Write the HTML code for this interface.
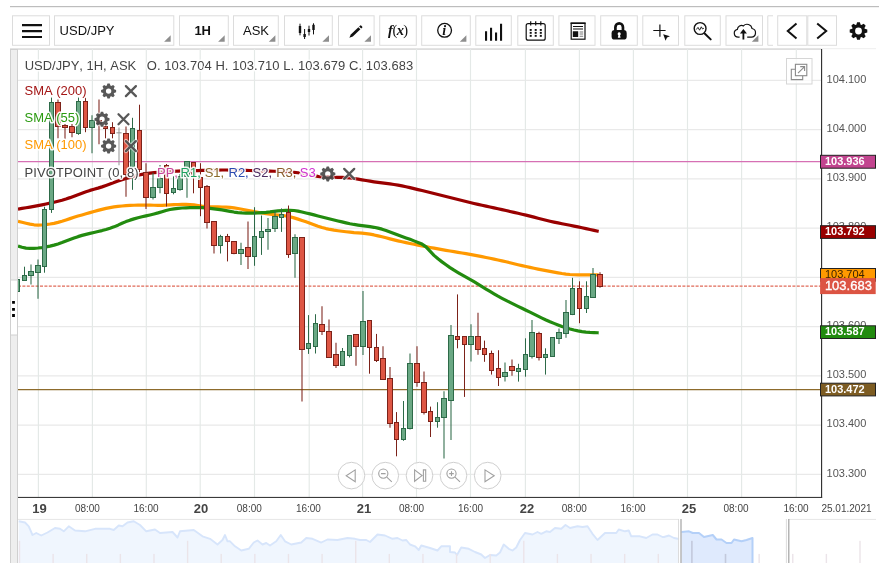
<!DOCTYPE html>
<html lang="en">
<head>
<meta charset="utf-8">
<title>USD/JPY 1H chart</title>
<style>
html,body{margin:0;padding:0;background:#fff;}
body{width:879px;height:569px;overflow:hidden;position:relative;font-family:"Liberation Sans",Arial,sans-serif;}
svg.chart{position:absolute;left:0;top:0;display:block;}
svg text{white-space:pre;font-kerning:none;}
</style>
</head>
<body>
<svg class="chart" width="879" height="569" viewBox="0 0 879 569" font-family="Liberation Sans, Arial, sans-serif">
<defs>
<path id="gear" fill-rule="evenodd" d="M-1.84 -5.5 L-1.13 -7.52 L1.13 -7.52 L1.84 -5.5 L2.59 -5.19 L4.52 -6.11 L6.11 -4.52 L5.19 -2.59 L5.5 -1.84 L7.52 -1.13 L7.52 1.13 L5.5 1.84 L5.19 2.59 L6.11 4.52 L4.52 6.11 L2.59 5.19 L1.84 5.5 L1.13 7.52 L-1.13 7.52 L-1.84 5.5 L-2.59 5.19 L-4.52 6.11 L-6.11 4.52 L-5.19 2.59 L-5.5 1.84 L-7.52 1.13 L-7.52 -1.13 L-5.5 -1.84 L-5.19 -2.59 L-6.11 -4.52 L-4.52 -6.11 L-2.59 -5.19Z M-2.7 0 a2.7 2.7 0 1 0 5.4 0 a2.7 2.7 0 1 0 -5.4 0Z"/>
<path id="xx" d="M-5 -5 L5 5 M5 -5 L-5 5" fill="none" stroke-linecap="round"/>
<clipPath id="plot"><rect x="18" y="49" width="803" height="448"/></clipPath>
</defs>
<rect x="10" y="6" width="869" height="1.2" fill="#bdbdbd"/>
<g fill="#fff" stroke="#dcdcdc" stroke-width="1">
<rect x="12.5" y="15.8" width="37" height="29.5"/>
<rect x="54.5" y="15.8" width="119.3" height="29.5"/>
<rect x="179.5" y="15.8" width="48.8" height="29.5"/>
<rect x="233.5" y="15.8" width="44.8" height="29.5"/>
<rect x="284.5" y="15.8" width="47.8" height="29.5"/>
<rect x="338.5" y="15.8" width="35.6" height="29.5"/>
<rect x="379.7" y="15.8" width="36.6" height="29.5"/>
<rect x="421.7" y="15.8" width="48.6" height="29.5"/>
<rect x="475.8" y="15.8" width="35.5" height="29.5"/>
<rect x="517.8" y="15.8" width="35.5" height="29.5"/>
<rect x="558.9" y="15.8" width="36.1" height="29.5"/>
<rect x="600.7" y="15.8" width="36.6" height="29.5"/>
<rect x="642.8" y="15.8" width="35.7" height="29.5"/>
<rect x="684.8" y="15.8" width="35.5" height="29.5"/>
<rect x="726" y="15.8" width="36.5" height="29.5"/>
<rect x="777.7" y="15.8" width="29.1" height="29.5"/>
<rect x="807.8" y="15.8" width="28.7" height="29.5"/>
<path d="M773 15.8h-5.2v29.5h5.2" fill="none"/>
</g>
<g fill="#8e8e8e">
<path d="M170.7 35.2v6.6h-6.6z"/>
<path d="M224.7 35.2v6.6h-6.6z"/>
<path d="M275.4 35.2v6.6h-6.6z"/>
<path d="M329 35.2v6.6h-6.6z"/>
<path d="M371 35.2v6.6h-6.6z"/>
<path d="M466.4 35.2v6.6h-6.6z"/>
<path d="M758.4 35.2v6.6h-6.6z"/>
</g>
<path d="M22 24h20v2.2h-20zM22 30h20v2.2h-20zM22 35.9h20v2.2h-20z" fill="#111"/>
<g font-size="13" fill="#111">
<text x="59.6" y="34.6">USD/JPY</text>
<text x="194.4" y="34.8" font-weight="bold">1H</text>
<text x="243" y="34.8">ASK</text>
</g>
<g stroke="#111" stroke-width="1" fill="#111">
<line x1="300" x2="300" y1="23.7" y2="35.3"/><rect x="298.8" y="26" width="2.4" height="7" stroke="none"/>
<line x1="304.6" x2="304.6" y1="29" y2="39"/><rect x="303.4" y="34" width="2.4" height="3" stroke="none"/>
<line x1="309" x2="309" y1="25.7" y2="35.5"/><rect x="307.8" y="29" width="2.4" height="3" stroke="none"/>
<line x1="313.5" x2="313.5" y1="23.3" y2="34.4"/><rect x="312.3" y="24.8" width="2.4" height="5.2" stroke="none"/>
</g>
<g fill="#111"><path d="M349.4 37.8 L350.8 34.4 L358.4 27.2 L360.4 29.3 L352.8 36.5Z"/><path d="M359.1 26.5 L360 25.7 a1 1 0 0 1 1.4 0 l0.7 0.7 a1 1 0 0 1 0 1.4 L361.2 28.6Z"/></g>
<g font-family="Liberation Serif, Times New Roman, serif" font-size="14.5" fill="#111"><text x="388" y="35"><tspan font-style="italic" font-weight="bold">f</tspan><tspan dx="-0.4">(</tspan><tspan font-style="italic" font-weight="bold" dx="-0.6">x</tspan><tspan dx="-0.6">)</tspan></text></g>
<circle cx="444.6" cy="30.3" r="6.9" fill="none" stroke="#111" stroke-width="1.3"/>
<text x="442.2" y="35" font-family="Liberation Serif, Times New Roman, serif" font-size="14" font-style="italic" font-weight="bold" fill="#111">i</text>
<path d="M485 31.2h2.1v9.6h-2.1zM490 27.8h2.1v13h-2.1zM495 32.6h2.1v8.2h-2.1zM500 23.7h2.1v17.1h-2.1z" fill="#111"/>
<g fill="none" stroke="#111" stroke-width="1.2"><rect x="526.2" y="23.6" width="19" height="16.6" rx="2"/><path d="M530.7 21.2v4.2M535.7 21.2v4.2M540.8 21.2v4.2"/></g>
<g fill="#111">
<rect x="529.7" y="29" width="2" height="1.9"/>
<rect x="529.7" y="31.9" width="2" height="1.9"/>
<rect x="529.7" y="34.9" width="2" height="1.9"/>
<rect x="534.7" y="29" width="2" height="1.9"/>
<rect x="534.7" y="31.9" width="2" height="1.9"/>
<rect x="534.7" y="34.9" width="2" height="1.9"/>
<rect x="539.8" y="29" width="2" height="1.9"/>
<rect x="539.8" y="31.9" width="2" height="1.9"/>
<rect x="539.8" y="34.9" width="2" height="1.9"/>
</g>
<g><rect x="571.2" y="23.2" width="13.8" height="16" fill="none" stroke="#111" stroke-width="1.2"/><path d="M570.6 22.4h15v1.6h-15zM573 26h10v1h-10zM573 28.4h10v1h-10zM572.8 31.2h5.4v5.8h-5.4z" fill="#111"/><path d="M579.6 31.4h3.6v1h-3.6zM579.6 33.6h3.6v1h-3.6zM579.6 35.8h3.6v1h-3.6z" fill="#777"/></g>
<g><path d="M615.4 31.5v-4.3a3.78 3.78 0 0 1 7.56 0v4.3" fill="none" stroke="#111" stroke-width="2.7"/><rect x="611.6" y="30.1" width="15.1" height="9.5" rx="3.2" fill="#111"/><path d="M619.2 32.3a1.55 1.55 0 0 1 0.85 2.85l0.5 2.7h-2.7l0.5-2.7a1.55 1.55 0 0 1 0.85-2.85z" fill="#fff"/></g>
<g><path d="M653.3 30.5h12.3M659.9 24.4v12.3" stroke="#111" stroke-width="1.2" fill="none"/><path d="M663.2 34.2l6.8 2l-3 1.3l-1.4 3.2z" fill="#111"/></g>
<g fill="none" stroke="#111"><circle cx="700.1" cy="28.5" r="5.9" stroke-width="1.4"/><path d="M704.9 33.8l5.8 5.6" stroke-width="2" stroke-linecap="round"/><path d="M696.2 29.6l1.8-2.2l1.6 2.8l1.7-3.4l1.2 2.2l1.4-0.8" stroke-width="0.9"/></g>
<g><path d="M739.6 37.2h-1.4a4 4 0 0 1-0.8-7.9a4.2 4.2 0 0 1 6-3.4a5 5 0 0 1 8.6 2.6a4.4 4.4 0 0 1-0.6 8.7h-4.2" fill="none" stroke="#111" stroke-width="1.2"/><path d="M742.5 39.6v-6.2h-2.6l3.5-4.3l3.5 4.3h-2.6v6.2z" fill="#111"/></g>
<g fill="none" stroke="#111" stroke-width="2"><path d="M796.5 23.5L787.8 31L796.5 38.4"/><path d="M817.2 23.5L826.2 31L817.2 38.4"/></g>
<path fill="#111" fill-rule="evenodd" d="M856.34 24.76 L857.11 22.21 L859.89 22.21 L860.66 24.76 L861.38 25.06 L863.73 23.8 L865.7 25.77 L864.44 28.12 L864.74 28.84 L867.29 29.61 L867.29 32.39 L864.74 33.16 L864.44 33.88 L865.7 36.23 L863.73 38.2 L861.38 36.94 L860.66 37.24 L859.89 39.79 L857.11 39.79 L856.34 37.24 L855.62 36.94 L853.27 38.2 L851.3 36.23 L852.56 33.88 L852.26 33.16 L849.71 32.39 L849.71 29.61 L852.26 28.84 L852.56 28.12 L851.3 25.77 L853.27 23.8 L855.62 25.06Z M855.1 31 a3.4 3.4 0 1 0 6.8 0 a3.4 3.4 0 1 0 -6.8 0Z"/>
<rect x="10" y="48.2" width="811" height="1.8" fill="#dedede"/>
<rect x="821" y="48.2" width="55" height="1" fill="#eeeeee"/>
<rect x="10" y="49" width="8" height="514" fill="#d0d0d0"/>
<rect x="11" y="50" width="6" height="513" fill="#eeeeee"/>
<rect x="11" y="279.5" width="6" height="56" fill="#d0d0d0"/>
<rect x="11" y="280.5" width="6" height="54" fill="#ffffff"/>
<path d="M12.1 300.9h2.8v2.8h-2.8zM12.1 307.9h2.8v2.8h-2.8zM12.1 314.1h2.8v2.8h-2.8z" fill="#000"/>
<g stroke="#e9e9e9" stroke-width="1.15" clip-path="url(#plot)">
<line x1="18" x2="821" y1="80.4" y2="80.4"/>
<line x1="18" x2="821" y1="129.64" y2="129.64"/>
<line x1="18" x2="821" y1="178.88" y2="178.88"/>
<line x1="18" x2="821" y1="228.12" y2="228.12"/>
<line x1="18" x2="821" y1="277.36" y2="277.36"/>
<line x1="18" x2="821" y1="326.6" y2="326.6"/>
<line x1="18" x2="821" y1="375.84" y2="375.84"/>
<line x1="18" x2="821" y1="425.08" y2="425.08"/>
<line x1="18" x2="821" y1="474.32" y2="474.32"/>
</g>
<g stroke="#e4e9e7" stroke-width="1.15" clip-path="url(#plot)">
<line x1="38.4" x2="38.4" y1="49" y2="497"/>
<line x1="92.4" x2="92.4" y1="49" y2="497"/>
<line x1="146.3" x2="146.3" y1="49" y2="497"/>
<line x1="200.2" x2="200.2" y1="49" y2="497"/>
<line x1="254.5" x2="254.5" y1="49" y2="497"/>
<line x1="309.2" x2="309.2" y1="49" y2="497"/>
<line x1="362.6" x2="362.6" y1="49" y2="497"/>
<line x1="416.5" x2="416.5" y1="49" y2="497"/>
<line x1="470.5" x2="470.5" y1="49" y2="497"/>
<line x1="525.4" x2="525.4" y1="49" y2="497"/>
<line x1="579.4" x2="579.4" y1="49" y2="497"/>
<line x1="633.4" x2="633.4" y1="49" y2="497"/>
<line x1="687.5" x2="687.5" y1="49" y2="497"/>
<line x1="741.6" x2="741.6" y1="49" y2="497"/>
<line x1="796.3" x2="796.3" y1="49" y2="497"/>
</g>
<line x1="18" x2="821" y1="161.6" y2="161.6" stroke="#d670b4" stroke-width="1.25"/>
<line x1="18" x2="821" y1="389.6" y2="389.6" stroke="#8d6b2c" stroke-width="1.3"/>
<line x1="18" x2="821" y1="286.15" y2="286.15" stroke="#e06a58" stroke-width="1.3" stroke-dasharray="3 1.4"/>
<g fill="none" stroke-width="3.2" stroke-linejoin="round" stroke-linecap="butt" clip-path="url(#plot)">
<polyline stroke="#ff9900" points="18,221.4 22,222.25 26,223.2 30,224.1 34,224.79 38,225.1 42,224.99 46,224.6 50,224.02 54,223.33 58,222.4 62,221.26 66,219.98 70,218.64 74,217.31 78,216.07 82,214.95 86,213.81 90,212.66 94,211.52 98,210.41 102,209.37 106,208.42 110,207.59 114,206.9 118,206.38 122,205.98 126,205.68 130,205.45 134,205.26 138,205.14 142,205.11 146,205.14 150,205.2 154,205.26 158,205.3 162,205.28 166,205.14 170,204.94 174,204.71 178,204.5 182,204.37 186,204.35 190,204.5 194,204.87 198,205.48 202,206.07 206,206.45 210,206.69 214,206.82 218,206.91 222,207 226,207.15 230,207.42 234,207.86 238,208.49 242,209.26 246,210.08 250,210.9 254,211.63 258,212.32 262,212.98 266,213.61 270,214.2 274,214.66 278,215.02 282,215.4 286,215.96 290,216.8 294,217.89 298,219.14 302,220.47 306,221.8 310,223.22 314,224.73 318,226.2 322,227.51 326,228.57 330,229.44 334,230.15 338,230.74 342,231.26 346,231.73 350,232.2 354,232.6 358,232.9 362,233.2 366,233.61 370,234.19 374,234.94 378,235.82 382,236.79 386,237.82 390,238.86 394,239.88 398,240.85 402,241.73 406,242.6 410,243.45 414,244.29 418,245.11 422,245.91 426,246.69 430,247.45 434,248.19 438,248.91 442,249.62 446,250.33 450,251.03 454,251.7 458,252.36 462,253.03 466,253.7 470,254.41 474,255.14 478,255.9 482,256.68 486,257.48 490,258.29 494,259.13 498,259.98 502,260.87 506,261.8 510,262.77 514,263.74 518,264.7 522,265.64 526,266.53 530,267.39 534,268.24 538,269.06 542,269.86 546,270.63 550,271.38 554,272.1 558,272.84 562,273.53 566,274.11 570,274.52 574,274.75 578,274.84 582,274.85 586,274.82 590,274.8 594,274.81 598,274.8 598.7,274.8"/>
<polyline stroke="#228b0f" points="18,246 22,247.28 26,248.15 30,248.41 34,248.3 38,248 42,247.55 46,246.89 50,246.09 54,245.12 58,243.91 62,242.53 66,241.05 70,239.53 74,238.04 78,236.64 82,235.4 86,234.33 90,233.36 94,232.44 98,231.53 102,230.57 106,229.51 110,228.29 114,226.86 118,225.17 122,223.32 126,221.6 130,220.14 134,218.89 138,217.79 142,216.8 146,215.87 150,214.94 154,213.96 158,212.89 162,211.67 166,210.46 170,209.53 174,208.83 178,208.34 182,208.01 186,207.8 190,207.69 194,207.61 198,207.58 202,207.67 206,207.95 210,208.36 214,208.85 218,209.35 222,209.94 226,210.64 230,211.37 234,212.04 238,212.58 242,212.91 246,213.08 250,213.12 254,213.06 258,212.9 262,212.66 266,212.36 270,211.94 274,211.37 278,210.84 282,210.53 286,210.33 290,210.28 294,210.5 298,211.1 302,212 306,212.94 310,213.89 314,214.9 318,215.93 322,216.95 326,217.94 330,218.95 334,219.95 338,220.94 342,221.91 346,222.83 350,223.7 354,224.45 358,225.06 362,225.58 366,226.09 370,226.64 374,227.3 378,228.11 382,229.15 386,230.45 390,231.92 394,233.48 398,235.05 402,236.52 406,237.92 410,239.33 414,240.88 418,242.45 422,244.1 426,246.86 430,251.16 434,255.35 438,258.79 442,261.88 446,264.81 450,267.61 454,270.16 458,272.54 462,274.81 466,277.04 470,279.31 474,281.68 478,284.13 482,286.59 486,289.06 490,291.49 494,293.86 498,296.15 502,298.32 506,300.41 510,302.42 514,304.38 518,306.32 522,308.25 526,310.19 530,312.18 534,314.18 538,316.17 542,318.12 546,319.99 550,321.75 554,323.39 558,324.98 562,326.47 566,327.81 570,328.98 574,330 578,330.88 582,331.59 586,332.11 590,332.4 594,332.57 598,332.76 598.7,332.8"/>
<polyline stroke="#990000" points="18,209.1 22,208.41 26,207.74 30,207.07 34,206.36 38,205.6 42,204.81 46,203.99 50,203.15 54,202.25 58,201.27 62,200.2 66,198.99 70,197.63 74,196.16 78,194.64 82,193.14 86,191.71 90,190.4 94,189.23 98,188.1 102,186.87 106,185.5 110,184.04 114,182.55 118,181.1 122,179.73 126,178.51 130,177.35 134,176.26 138,175.25 142,174.36 146,173.64 150,173.09 154,172.68 158,172.35 162,172.04 166,171.73 170,171.48 174,171.27 178,171.11 182,170.97 186,170.85 190,170.75 194,170.65 198,170.55 202,170.44 206,170.33 210,170.22 214,170.13 218,170.06 222,170.01 226,170 230,170.03 234,170.09 238,170.18 242,170.28 246,170.39 250,170.5 254,170.6 258,170.7 262,170.81 266,170.93 270,171.08 274,171.25 278,171.44 282,171.61 286,171.79 290,172.02 294,172.33 298,172.74 302,173.31 306,174.07 310,174.91 314,175.72 318,176.37 322,176.8 326,177.06 330,177.19 334,177.27 338,177.33 342,177.44 346,177.64 350,178 354,178.51 358,179.12 362,179.8 366,180.5 370,181.19 374,181.85 378,182.43 382,182.95 386,183.45 390,183.96 394,184.51 398,185.14 402,185.88 406,186.72 410,187.63 414,188.59 418,189.58 422,190.57 426,191.54 430,192.52 434,193.5 438,194.5 442,195.5 446,196.5 450,197.51 454,198.52 458,199.55 462,200.57 466,201.57 470,202.56 474,203.5 478,204.42 482,205.3 486,206.17 490,207.03 494,207.9 498,208.78 502,209.67 506,210.56 510,211.46 514,212.36 518,213.27 522,214.2 526,215.14 530,216.13 534,217.15 538,218.19 542,219.22 546,220.22 550,221.19 554,222.09 558,222.93 562,223.73 566,224.51 570,225.29 574,226.08 578,226.9 582,227.75 586,228.62 590,229.49 594,230.37 598,231.25 598.7,231.4"/>
</g>
<g clip-path="url(#plot)">
<line x1="17.5" x2="17.5" y1="279" y2="291.6" stroke="#2d6a48" stroke-width="1.05"/>
<rect x="15.5" y="279.5" width="4" height="12" fill="#6aa884" stroke="#2d6a48" stroke-width="1"/>
<line x1="24.5" x2="24.5" y1="266.7" y2="280.7" stroke="#2d6a48" stroke-width="1.05"/>
<rect x="22.5" y="275.5" width="4" height="5" fill="#6aa884" stroke="#2d6a48" stroke-width="1"/>
<line x1="31" x2="31" y1="264.6" y2="284.6" stroke="#2d6a48" stroke-width="1.05"/>
<rect x="28.5" y="271.5" width="5" height="4" fill="#6aa884" stroke="#2d6a48" stroke-width="1"/>
<line x1="38" x2="38" y1="259.4" y2="298.7" stroke="#2d6a48" stroke-width="1.05"/>
<rect x="35.5" y="265.5" width="5" height="7" fill="#6aa884" stroke="#2d6a48" stroke-width="1"/>
<line x1="44.5" x2="44.5" y1="206.7" y2="272.7" stroke="#2d6a48" stroke-width="1.05"/>
<rect x="42.5" y="209.5" width="4" height="57" fill="#6aa884" stroke="#2d6a48" stroke-width="1"/>
<line x1="51.5" x2="51.5" y1="97.6" y2="212.9" stroke="#2d6a48" stroke-width="1.05"/>
<rect x="49.5" y="102.5" width="4" height="107" fill="#6aa884" stroke="#2d6a48" stroke-width="1"/>
<line x1="58" x2="58" y1="99.4" y2="138.3" stroke="#7c2219" stroke-width="1.05"/>
<rect x="55.5" y="102.5" width="5" height="24" fill="#de5644" stroke="#7c2219" stroke-width="1"/>
<line x1="65" x2="65" y1="124" y2="139.3" stroke="#7c2219" stroke-width="1.05"/>
<rect x="62.5" y="125.5" width="5" height="2" fill="#de5644" stroke="#7c2219" stroke-width="1"/>
<line x1="72" x2="72" y1="124" y2="137.3" stroke="#7c2219" stroke-width="1.05"/>
<rect x="69.5" y="126.5" width="5" height="6" fill="#de5644" stroke="#7c2219" stroke-width="1"/>
<line x1="78.5" x2="78.5" y1="97.6" y2="134.8" stroke="#2d6a48" stroke-width="1.05"/>
<rect x="76.5" y="101.5" width="4" height="32" fill="#6aa884" stroke="#2d6a48" stroke-width="1"/>
<line x1="85.5" x2="85.5" y1="97.6" y2="132.2" stroke="#7c2219" stroke-width="1.05"/>
<rect x="83.5" y="101.5" width="4" height="26" fill="#de5644" stroke="#7c2219" stroke-width="1"/>
<line x1="92" x2="92" y1="115.2" y2="153.3" stroke="#2d6a48" stroke-width="1.05"/>
<rect x="89.5" y="120.5" width="5" height="7" fill="#6aa884" stroke="#2d6a48" stroke-width="1"/>
<line x1="99" x2="99" y1="99.4" y2="144.3" stroke="#7c2219" stroke-width="1.05"/>
<rect x="96.5" y="120.5" width="5" height="3" fill="#de5644" stroke="#7c2219" stroke-width="1"/>
<line x1="105.5" x2="105.5" y1="124" y2="138.3" stroke="#7c2219" stroke-width="1.05"/>
<rect x="103.5" y="126.5" width="4" height="2" fill="#de5644" stroke="#7c2219" stroke-width="1"/>
<line x1="112.5" x2="112.5" y1="122.2" y2="138.3" stroke="#7c2219" stroke-width="1.05"/>
<rect x="110.5" y="127.5" width="4" height="6" fill="#de5644" stroke="#7c2219" stroke-width="1"/>
<line x1="119" x2="119" y1="127.5" y2="165.3" stroke="#999" stroke-width="1.05"/>
<line x1="116.4" x2="121.6" y1="132.8" y2="132.8" stroke="#999" stroke-width="1.1"/>
<line x1="126" x2="126" y1="126.6" y2="196.8" stroke="#7c2219" stroke-width="1.05"/>
<rect x="123.5" y="133.5" width="5" height="41" fill="#de5644" stroke="#7c2219" stroke-width="1"/>
<line x1="132.5" x2="132.5" y1="117.8" y2="189.8" stroke="#2d6a48" stroke-width="1.05"/>
<rect x="130.5" y="128.5" width="4" height="39" fill="#6aa884" stroke="#2d6a48" stroke-width="1"/>
<line x1="139.5" x2="139.5" y1="104.7" y2="172.3" stroke="#7c2219" stroke-width="1.05"/>
<rect x="137.5" y="130.5" width="4" height="39" fill="#de5644" stroke="#7c2219" stroke-width="1"/>
<line x1="146" x2="146" y1="163.2" y2="209.1" stroke="#7c2219" stroke-width="1.05"/>
<rect x="143.5" y="172.5" width="5" height="25" fill="#de5644" stroke="#7c2219" stroke-width="1"/>
<line x1="153" x2="153" y1="172.8" y2="199.5" stroke="#2d6a48" stroke-width="1.05"/>
<rect x="150.5" y="187.5" width="5" height="10" fill="#6aa884" stroke="#2d6a48" stroke-width="1"/>
<line x1="160" x2="160" y1="165" y2="193.3" stroke="#2d6a48" stroke-width="1.05"/>
<rect x="157.5" y="178.5" width="5" height="9" fill="#6aa884" stroke="#2d6a48" stroke-width="1"/>
<line x1="166.5" x2="166.5" y1="164" y2="206.5" stroke="#7c2219" stroke-width="1.05"/>
<rect x="164.5" y="165.5" width="4" height="28" fill="#de5644" stroke="#7c2219" stroke-width="1"/>
<line x1="173.5" x2="173.5" y1="176.3" y2="194.3" stroke="#2d6a48" stroke-width="1.05"/>
<rect x="171.5" y="188.5" width="4" height="4" fill="#6aa884" stroke="#2d6a48" stroke-width="1"/>
<line x1="180" x2="180" y1="174" y2="190.7" stroke="#2d6a48" stroke-width="1.05"/>
<rect x="177.5" y="176.5" width="5" height="13" fill="#6aa884" stroke="#2d6a48" stroke-width="1"/>
<line x1="187" x2="187" y1="161.4" y2="197.7" stroke="#2d6a48" stroke-width="1.05"/>
<rect x="184.5" y="161.5" width="5" height="15" fill="#6aa884" stroke="#2d6a48" stroke-width="1"/>
<line x1="193.5" x2="193.5" y1="162.3" y2="193.3" stroke="#7c2219" stroke-width="1.05"/>
<rect x="191.5" y="162.5" width="4" height="14" fill="#de5644" stroke="#7c2219" stroke-width="1"/>
<line x1="200.5" x2="200.5" y1="163.2" y2="216.2" stroke="#7c2219" stroke-width="1.05"/>
<rect x="198.5" y="177.5" width="4" height="10" fill="#de5644" stroke="#7c2219" stroke-width="1"/>
<line x1="207" x2="207" y1="185" y2="228.5" stroke="#7c2219" stroke-width="1.05"/>
<rect x="204.5" y="186.5" width="5" height="36" fill="#de5644" stroke="#7c2219" stroke-width="1"/>
<line x1="214" x2="214" y1="221.1" y2="253.5" stroke="#7c2219" stroke-width="1.05"/>
<rect x="211.5" y="221.5" width="5" height="24" fill="#de5644" stroke="#7c2219" stroke-width="1"/>
<line x1="220.5" x2="220.5" y1="234.8" y2="253.5" stroke="#2d6a48" stroke-width="1.05"/>
<rect x="218.5" y="236.5" width="4" height="9" fill="#6aa884" stroke="#2d6a48" stroke-width="1"/>
<line x1="227.5" x2="227.5" y1="233.9" y2="261.4" stroke="#7c2219" stroke-width="1.05"/>
<rect x="225.5" y="236.5" width="4" height="5" fill="#de5644" stroke="#7c2219" stroke-width="1"/>
<line x1="234" x2="234" y1="240.9" y2="254.3" stroke="#7c2219" stroke-width="1.05"/>
<rect x="231.5" y="241.5" width="5" height="12" fill="#de5644" stroke="#7c2219" stroke-width="1"/>
<line x1="241" x2="241" y1="242.7" y2="265" stroke="#2d6a48" stroke-width="1.05"/>
<rect x="238.5" y="249.5" width="5" height="4" fill="#6aa884" stroke="#2d6a48" stroke-width="1"/>
<line x1="248" x2="248" y1="221.6" y2="269" stroke="#7c2219" stroke-width="1.05"/>
<rect x="245.5" y="247.5" width="5" height="9" fill="#de5644" stroke="#7c2219" stroke-width="1"/>
<line x1="254.5" x2="254.5" y1="207.2" y2="265.8" stroke="#2d6a48" stroke-width="1.05"/>
<rect x="252.5" y="236.5" width="4" height="20" fill="#6aa884" stroke="#2d6a48" stroke-width="1"/>
<line x1="261.5" x2="261.5" y1="215.5" y2="254.9" stroke="#2d6a48" stroke-width="1.05"/>
<rect x="259.5" y="231.5" width="4" height="6" fill="#6aa884" stroke="#2d6a48" stroke-width="1"/>
<line x1="268" x2="268" y1="218.1" y2="249.7" stroke="#2d6a48" stroke-width="1.05"/>
<rect x="265.5" y="229.5" width="5" height="2" fill="#6aa884" stroke="#2d6a48" stroke-width="1"/>
<line x1="275" x2="275" y1="210.2" y2="231.9" stroke="#2d6a48" stroke-width="1.05"/>
<rect x="272.5" y="216.5" width="5" height="12" fill="#6aa884" stroke="#2d6a48" stroke-width="1"/>
<line x1="281.5" x2="281.5" y1="208.4" y2="231.9" stroke="#2d6a48" stroke-width="1.05"/>
<rect x="279.5" y="214.5" width="4" height="3" fill="#6aa884" stroke="#2d6a48" stroke-width="1"/>
<line x1="288.5" x2="288.5" y1="205.5" y2="257.9" stroke="#7c2219" stroke-width="1.05"/>
<rect x="286.5" y="212.5" width="4" height="42" fill="#de5644" stroke="#7c2219" stroke-width="1"/>
<line x1="295" x2="295" y1="234.3" y2="277.8" stroke="#2d6a48" stroke-width="1.05"/>
<rect x="292.5" y="237.5" width="5" height="16" fill="#6aa884" stroke="#2d6a48" stroke-width="1"/>
<line x1="302" x2="302" y1="237.4" y2="401.4" stroke="#7c2219" stroke-width="1.05"/>
<rect x="299.5" y="237.5" width="5" height="112" fill="#de5644" stroke="#7c2219" stroke-width="1"/>
<line x1="308.5" x2="308.5" y1="315.1" y2="353.9" stroke="#2d6a48" stroke-width="1.05"/>
<rect x="306.5" y="343.5" width="4" height="5" fill="#6aa884" stroke="#2d6a48" stroke-width="1"/>
<line x1="315.5" x2="315.5" y1="314.2" y2="353.5" stroke="#2d6a48" stroke-width="1.05"/>
<rect x="313.5" y="323.5" width="4" height="23" fill="#6aa884" stroke="#2d6a48" stroke-width="1"/>
<line x1="322" x2="322" y1="306.2" y2="335.1" stroke="#7c2219" stroke-width="1.05"/>
<rect x="319.5" y="324.5" width="5" height="7" fill="#de5644" stroke="#7c2219" stroke-width="1"/>
<line x1="329" x2="329" y1="319.5" y2="357.9" stroke="#7c2219" stroke-width="1.05"/>
<rect x="326.5" y="331.5" width="5" height="26" fill="#de5644" stroke="#7c2219" stroke-width="1"/>
<line x1="336" x2="336" y1="342.7" y2="368.1" stroke="#7c2219" stroke-width="1.05"/>
<rect x="333.5" y="354.5" width="5" height="11" fill="#de5644" stroke="#7c2219" stroke-width="1"/>
<line x1="342.5" x2="342.5" y1="348" y2="365.8" stroke="#2d6a48" stroke-width="1.05"/>
<rect x="340.5" y="351.5" width="4" height="14" fill="#6aa884" stroke="#2d6a48" stroke-width="1"/>
<line x1="349.5" x2="349.5" y1="335.3" y2="357.4" stroke="#2d6a48" stroke-width="1.05"/>
<rect x="347.5" y="335.5" width="4" height="20" fill="#6aa884" stroke="#2d6a48" stroke-width="1"/>
<line x1="356" x2="356" y1="334.4" y2="365.8" stroke="#7c2219" stroke-width="1.05"/>
<rect x="353.5" y="334.5" width="5" height="12" fill="#de5644" stroke="#7c2219" stroke-width="1"/>
<line x1="363" x2="363" y1="290.9" y2="354.9" stroke="#2d6a48" stroke-width="1.05"/>
<rect x="360.5" y="321.5" width="5" height="25" fill="#6aa884" stroke="#2d6a48" stroke-width="1"/>
<line x1="369.5" x2="369.5" y1="320.4" y2="373.7" stroke="#7c2219" stroke-width="1.05"/>
<rect x="367.5" y="320.5" width="4" height="27" fill="#de5644" stroke="#7c2219" stroke-width="1"/>
<line x1="376.5" x2="376.5" y1="333.9" y2="362" stroke="#7c2219" stroke-width="1.05"/>
<rect x="374.5" y="347.5" width="4" height="13" fill="#de5644" stroke="#7c2219" stroke-width="1"/>
<line x1="383" x2="383" y1="346.2" y2="379.8" stroke="#7c2219" stroke-width="1.05"/>
<rect x="380.5" y="358.5" width="5" height="21" fill="#de5644" stroke="#7c2219" stroke-width="1"/>
<line x1="390" x2="390" y1="367" y2="427.7" stroke="#7c2219" stroke-width="1.05"/>
<rect x="387.5" y="378.5" width="5" height="45" fill="#de5644" stroke="#7c2219" stroke-width="1"/>
<line x1="396.5" x2="396.5" y1="412.1" y2="456.3" stroke="#7c2219" stroke-width="1.05"/>
<rect x="394.5" y="422.5" width="4" height="17" fill="#de5644" stroke="#7c2219" stroke-width="1"/>
<line x1="403.5" x2="403.5" y1="401" y2="440.8" stroke="#2d6a48" stroke-width="1.05"/>
<rect x="401.5" y="428.5" width="4" height="11" fill="#6aa884" stroke="#2d6a48" stroke-width="1"/>
<line x1="410" x2="410" y1="353.6" y2="429.4" stroke="#2d6a48" stroke-width="1.05"/>
<rect x="407.5" y="363.5" width="5" height="65" fill="#6aa884" stroke="#2d6a48" stroke-width="1"/>
<line x1="417" x2="417" y1="346.2" y2="386.8" stroke="#7c2219" stroke-width="1.05"/>
<rect x="414.5" y="363.5" width="5" height="19" fill="#de5644" stroke="#7c2219" stroke-width="1"/>
<line x1="424" x2="424" y1="371.4" y2="414.5" stroke="#7c2219" stroke-width="1.05"/>
<rect x="421.5" y="382.5" width="5" height="30" fill="#de5644" stroke="#7c2219" stroke-width="1"/>
<line x1="430.5" x2="430.5" y1="406.6" y2="437" stroke="#7c2219" stroke-width="1.05"/>
<rect x="428.5" y="411.5" width="4" height="10" fill="#de5644" stroke="#7c2219" stroke-width="1"/>
<line x1="437.5" x2="437.5" y1="402.2" y2="427.7" stroke="#2d6a48" stroke-width="1.05"/>
<rect x="435.5" y="417.5" width="4" height="4" fill="#6aa884" stroke="#2d6a48" stroke-width="1"/>
<line x1="444" x2="444" y1="391.3" y2="458.4" stroke="#2d6a48" stroke-width="1.05"/>
<rect x="441.5" y="398.5" width="5" height="19" fill="#6aa884" stroke="#2d6a48" stroke-width="1"/>
<line x1="451" x2="451" y1="325.1" y2="440" stroke="#2d6a48" stroke-width="1.05"/>
<rect x="448.5" y="335.5" width="5" height="65" fill="#6aa884" stroke="#2d6a48" stroke-width="1"/>
<line x1="457.5" x2="457.5" y1="294.4" y2="348.3" stroke="#7c2219" stroke-width="1.05"/>
<rect x="455.5" y="336.5" width="4" height="3" fill="#de5644" stroke="#7c2219" stroke-width="1"/>
<line x1="464.5" x2="464.5" y1="336.2" y2="396.9" stroke="#7c2219" stroke-width="1.05"/>
<rect x="462.5" y="336.5" width="4" height="8" fill="#de5644" stroke="#7c2219" stroke-width="1"/>
<line x1="471" x2="471" y1="324.3" y2="361.4" stroke="#2d6a48" stroke-width="1.05"/>
<rect x="468.5" y="336.5" width="5" height="8" fill="#6aa884" stroke="#2d6a48" stroke-width="1"/>
<line x1="478" x2="478" y1="312.8" y2="354.8" stroke="#7c2219" stroke-width="1.05"/>
<rect x="475.5" y="336.5" width="5" height="13" fill="#de5644" stroke="#7c2219" stroke-width="1"/>
<line x1="484.5" x2="484.5" y1="340.6" y2="361.8" stroke="#7c2219" stroke-width="1.05"/>
<rect x="482.5" y="348.5" width="4" height="6" fill="#de5644" stroke="#7c2219" stroke-width="1"/>
<line x1="491.5" x2="491.5" y1="350.6" y2="374.6" stroke="#7c2219" stroke-width="1.05"/>
<rect x="489.5" y="353.5" width="4" height="17" fill="#de5644" stroke="#7c2219" stroke-width="1"/>
<line x1="498.5" x2="498.5" y1="350.2" y2="386" stroke="#7c2219" stroke-width="1.05"/>
<rect x="496.5" y="368.5" width="4" height="9" fill="#de5644" stroke="#7c2219" stroke-width="1"/>
<line x1="505" x2="505" y1="362.4" y2="381.6" stroke="#2d6a48" stroke-width="1.05"/>
<rect x="502.5" y="372.5" width="5" height="4" fill="#6aa884" stroke="#2d6a48" stroke-width="1"/>
<line x1="512" x2="512" y1="359.4" y2="375.8" stroke="#7c2219" stroke-width="1.05"/>
<rect x="509.5" y="366.5" width="5" height="4" fill="#de5644" stroke="#7c2219" stroke-width="1"/>
<line x1="518.5" x2="518.5" y1="363.8" y2="381.6" stroke="#2d6a48" stroke-width="1.05"/>
<rect x="516.5" y="368.5" width="4" height="3" fill="#6aa884" stroke="#2d6a48" stroke-width="1"/>
<line x1="525.5" x2="525.5" y1="338.3" y2="376.7" stroke="#2d6a48" stroke-width="1.05"/>
<rect x="523.5" y="354.5" width="4" height="15" fill="#6aa884" stroke="#2d6a48" stroke-width="1"/>
<line x1="532" x2="532" y1="319.9" y2="358.5" stroke="#2d6a48" stroke-width="1.05"/>
<rect x="529.5" y="332.5" width="5" height="24" fill="#6aa884" stroke="#2d6a48" stroke-width="1"/>
<line x1="539" x2="539" y1="331.8" y2="360.6" stroke="#7c2219" stroke-width="1.05"/>
<rect x="536.5" y="333.5" width="5" height="24" fill="#de5644" stroke="#7c2219" stroke-width="1"/>
<line x1="545.5" x2="545.5" y1="348.3" y2="374.6" stroke="#2d6a48" stroke-width="1.05"/>
<rect x="543.5" y="354.5" width="4" height="3" fill="#6aa884" stroke="#2d6a48" stroke-width="1"/>
<line x1="552.5" x2="552.5" y1="337.4" y2="357" stroke="#2d6a48" stroke-width="1.05"/>
<rect x="550.5" y="337.5" width="4" height="19" fill="#6aa884" stroke="#2d6a48" stroke-width="1"/>
<line x1="559" x2="559" y1="328.5" y2="343.9" stroke="#2d6a48" stroke-width="1.05"/>
<rect x="556.5" y="332.5" width="5" height="6" fill="#6aa884" stroke="#2d6a48" stroke-width="1"/>
<line x1="566" x2="566" y1="300.1" y2="337.7" stroke="#2d6a48" stroke-width="1.05"/>
<rect x="563.5" y="312.5" width="5" height="21" fill="#6aa884" stroke="#2d6a48" stroke-width="1"/>
<line x1="572.5" x2="572.5" y1="277.8" y2="315.1" stroke="#2d6a48" stroke-width="1.05"/>
<rect x="570.5" y="288.5" width="4" height="26" fill="#6aa884" stroke="#2d6a48" stroke-width="1"/>
<line x1="579.5" x2="579.5" y1="281.3" y2="323.2" stroke="#7c2219" stroke-width="1.05"/>
<rect x="577.5" y="288.5" width="4" height="20" fill="#de5644" stroke="#7c2219" stroke-width="1"/>
<line x1="586.5" x2="586.5" y1="281.3" y2="313" stroke="#2d6a48" stroke-width="1.05"/>
<rect x="584.5" y="296.5" width="4" height="12" fill="#6aa884" stroke="#2d6a48" stroke-width="1"/>
<line x1="593" x2="593" y1="267.9" y2="297.7" stroke="#2d6a48" stroke-width="1.05"/>
<rect x="590.5" y="274.5" width="5" height="23" fill="#6aa884" stroke="#2d6a48" stroke-width="1"/>
<line x1="600" x2="600" y1="272.3" y2="287.7" stroke="#7c2219" stroke-width="1.05"/>
<rect x="597.5" y="274.5" width="5" height="12" fill="#de5644" stroke="#7c2219" stroke-width="1"/>
</g>
<rect x="18" y="496.9" width="804.2" height="1.1" fill="#3a3a3a"/>
<rect x="821" y="49" width="1.15" height="448.5" fill="#333"/>
<g font-size="11" fill="#555">
<text x="826.6" y="82.6">104.100</text>
<text x="826.6" y="131.84">104.000</text>
<text x="826.6" y="181.08">103.900</text>
<text x="826.6" y="230.32">103.800</text>
<text x="826.6" y="279.56">103.700</text>
<text x="826.6" y="328.8">103.600</text>
<text x="826.6" y="378.04">103.500</text>
<text x="826.6" y="427.28">103.400</text>
<text x="826.6" y="476.52">103.300</text>
</g>
<rect x="820.5" y="155.3" width="55" height="12.9" fill="#c2448f" stroke="#222" stroke-width="1"/>
<text x="824.9" y="165.05" font-size="11" fill="#fff" font-weight="bold">103.936</text>
<rect x="820.5" y="225.7" width="55" height="12.7" fill="#990000" stroke="#222" stroke-width="1"/>
<text x="824.9" y="235.35" font-size="11" fill="#fff" font-weight="bold">103.792</text>
<rect x="820.5" y="268.5" width="55" height="12.7" fill="#ff9900" stroke="#222" stroke-width="1"/>
<text x="824.9" y="278.15" font-size="11" fill="#3a2200">103.704</text>
<rect x="820.5" y="325.8" width="55" height="12.7" fill="#228b0f" stroke="#222" stroke-width="1"/>
<text x="824.9" y="335.45" font-size="11" fill="#fff" font-weight="bold">103.587</text>
<rect x="820.5" y="383.2" width="55" height="12.7" fill="#7d5c22" stroke="#222" stroke-width="1"/>
<text x="824.9" y="392.85" font-size="11" fill="#fff" font-weight="bold">103.472</text>
<rect x="820.1" y="278.1" width="55.6" height="16" fill="#dc5443"/>
<text x="824.9" y="289.9" font-size="13" fill="#fff" stroke="#fff" stroke-width="0.35">103.683</text>
<g font-size="10" fill="#444" text-anchor="middle">
<text x="87.4" y="512.3">08:00</text>
<text x="146" y="512.3">16:00</text>
<text x="249.3" y="512.3">08:00</text>
<text x="308.4" y="512.3">16:00</text>
<text x="411.5" y="512.3">08:00</text>
<text x="470.5" y="512.3">16:00</text>
<text x="574.3" y="512.3">08:00</text>
<text x="633" y="512.3">16:00</text>
<text x="736" y="512.3">08:00</text>
<text x="796" y="512.3">16:00</text>
<text x="846.5" y="512.3">25.01.2021</text>
</g>
<g font-size="13" font-weight="bold" fill="#444" text-anchor="middle">
<text x="39.6" y="513.4">19</text>
<text x="201" y="513.4">20</text>
<text x="363.9" y="513.4">21</text>
<text x="526.9" y="513.4">22</text>
<text x="688.9" y="513.4">25</text>
</g>
<g fill="rgba(255,255,255,0.8)" stroke="#d0d0d0" stroke-width="1">
<circle cx="351.5" cy="475.6" r="13.3"/>
<circle cx="385.3" cy="475.6" r="13.3"/>
<circle cx="419.5" cy="475.6" r="13.3"/>
<circle cx="453.5" cy="475.6" r="13.3"/>
<circle cx="487.7" cy="475.6" r="13.3"/>
</g>
<g fill="none" stroke="#a0a0a0" stroke-width="1.1" stroke-linejoin="miter">
<path d="M355.2 469.9 L346.2 475.8 L355.2 481.7Z"/>
<circle cx="383.3" cy="473.6" r="4.6"/><path d="M381 473.6h4.6M386.8 477.2l5 4.6"/>
<path d="M414.6 469.9 L422 475.6 L414.6 481.3Z M423.4 469.9h2.3v11.4h-2.3z"/>
<circle cx="451.5" cy="473.6" r="4.6"/><path d="M449.2 473.6h4.6M451.5 471.3v4.6M455 477.2l5 4.6"/>
<path d="M485 469.9 L494.2 475.8 L485 481.7Z"/>
</g>
<rect x="786.5" y="58.5" width="25.5" height="25.5" fill="rgba(255,255,255,0.75)" stroke="#d6d6d6"/>
<g fill="none" stroke="#8a8a8a" stroke-width="1.1"><path d="M795.4 69.2h-4.1v10.4h11.4v-3.9"/><rect x="795.4" y="64.3" width="11.4" height="11.4" fill="#fff"/><path d="M798 73.2l6.4-6.4M800.2 66.6h4.4v4.4"/></g>
<g font-size="13">
<text x="24.7" y="70" fill="#444" stroke="#fff" stroke-width="3" stroke-linejoin="round" paint-order="stroke" stroke-opacity="0.92" textLength="111.5">USD/JPY, 1H, ASK</text>
<text x="146.8" y="70" fill="#444" stroke="#fff" stroke-width="3" stroke-linejoin="round" paint-order="stroke" stroke-opacity="0.92" textLength="266.4">O. 103.704 H. 103.710 L. 103.679 C. 103.683</text>
<text x="24.5" y="95" fill="#a31515" stroke="#fff" stroke-width="3" stroke-linejoin="round" paint-order="stroke" stroke-opacity="0.92">SMA (200)</text>
<text x="24.5" y="122.3" fill="#2a9a10" stroke="#fff" stroke-width="3" stroke-linejoin="round" paint-order="stroke" stroke-opacity="0.92">SMA (55)</text>
<text x="24.5" y="149" fill="#ff9900" stroke="#fff" stroke-width="3" stroke-linejoin="round" paint-order="stroke" stroke-opacity="0.92">SMA (100)</text>
<text x="24.5" y="176.8" fill="#444" stroke="#fff" stroke-width="3" stroke-linejoin="round" paint-order="stroke" stroke-opacity="0.92" textLength="114.2">PIVOTPOINT (0, 8)</text>
<text x="157" y="176.8" stroke="#fff" stroke-width="3" stroke-linejoin="round" paint-order="stroke" stroke-opacity="0.92"><tspan x="157" fill="#c8459b">PP, </tspan><tspan x="180.6" fill="#1fa060">R1, </tspan><tspan x="204.7" fill="#8a6a2a">S1, </tspan><tspan x="228.5" fill="#2a4ab0">R2, </tspan><tspan x="252.6" fill="#4a2a60">S2, </tspan><tspan x="276.2" fill="#8a5a2a">R3, </tspan><tspan x="299.8" fill="#d030d0">S3</tspan></text>
</g>
<g fill="none" stroke="#fff" stroke-opacity="0.6" stroke-linejoin="round"><use href="#gear" x="108.6" y="91.1" stroke-width="2"/><use href="#xx" x="130.9" y="91.1" stroke-width="4.2"/></g>
<g fill="#4a4a4a" stroke="#4a4a4a" opacity="0.92"><use href="#gear" x="108.6" y="91.1" stroke="none"/><use href="#xx" x="130.9" y="91.1" stroke-width="2.3"/></g>
<g fill="none" stroke="#fff" stroke-opacity="0.6" stroke-linejoin="round"><use href="#gear" x="102" y="119.3" stroke-width="2"/><use href="#xx" x="123.5" y="119.3" stroke-width="4.2"/></g>
<g fill="#4a4a4a" stroke="#4a4a4a" opacity="0.92"><use href="#gear" x="102" y="119.3" stroke="none"/><use href="#xx" x="123.5" y="119.3" stroke-width="2.3"/></g>
<g fill="none" stroke="#fff" stroke-opacity="0.6" stroke-linejoin="round"><use href="#gear" x="108.6" y="146.1" stroke-width="2"/><use href="#xx" x="130.9" y="146.1" stroke-width="4.2"/></g>
<g fill="#4a4a4a" stroke="#4a4a4a" opacity="0.92"><use href="#gear" x="108.6" y="146.1" stroke="none"/><use href="#xx" x="130.9" y="146.1" stroke-width="2.3"/></g>
<g fill="none" stroke="#fff" stroke-opacity="0.6" stroke-linejoin="round"><use href="#gear" x="327.8" y="173.9" stroke-width="2"/><use href="#xx" x="349.2" y="173.9" stroke-width="4.2"/></g>
<g fill="#4a4a4a" stroke="#4a4a4a" opacity="0.92"><use href="#gear" x="327.8" y="173.9" stroke="none"/><use href="#xx" x="349.2" y="173.9" stroke-width="2.3"/></g>
<g>
<rect x="18" y="518.9" width="661" height="1" fill="#e6e6e6"/><rect x="788" y="518.9" width="88" height="1" fill="#e6e6e6"/>
<polygon fill="#f0f6fe" points="18.75,521.3 25,522.5 28.75,526.3 32.5,535 36.25,533 41.25,535.5 47.5,532.5 55,528 60,528.8 63.75,531.3 68.75,526.3 75,530.5 85,531.3 95,528.8 110,528.8 113.75,530 118.75,525.5 122.5,526.3 127.5,522.5 133.75,521.3 140,525 146.25,531.3 155,529.5 160,533 172.5,532 177.5,537.5 180,531.3 193.75,530 202.5,536.3 210,538.8 217.5,544.5 222.5,540 225,535 227.5,541.3 230,541.3 235,546.3 241.25,550.5 248.75,548.8 253.75,542.5 257.5,540.5 262.5,544.5 266.25,543 270,545.5 276.25,541.3 280.75,535 285,541.3 291.25,544.5 301.25,542.5 306.25,538 312.5,538.8 321.25,542.5 327.5,539.5 337.5,540 347.5,538 355,538.8 360,540 366.25,540 370,542 377.5,534.5 385,535.5 392.5,538.8 397.5,538 402.5,540.5 406.25,540 410,544.5 415,546.3 418.75,550 421.25,545.5 430,548 437.5,550.5 441.25,546.3 450,546.3 450,552 455,552.5 457,555 461.25,547.5 468.75,548.8 475,552 481.25,554.5 485,558 490,555 496.25,555.5 500,552.5 503.75,544.5 508.75,548.8 512.5,550.5 516.25,547.5 520,540 525,533 532.5,534.5 537.5,532 541.25,533.8 546.25,531.3 550,532 555,528 561.25,528.8 565.5,525 570,528 577.5,526.3 582.5,527 587.5,526.3 592.5,533.8 597.5,540 605,533 616.25,533 618.75,529.5 625,531.3 628.75,530.5 631.25,536.3 640,536.3 646.25,538 652.5,534.5 657.5,534.5 662.5,537 664,537 669,535.5 674,538 677.75,538.8 680,538.8 680,563 18.5,563"/>
<polyline fill="none" stroke="#d7e5fb" stroke-width="1.9" stroke-linejoin="round" points="18.75,521.3 25,522.5 28.75,526.3 32.5,535 36.25,533 41.25,535.5 47.5,532.5 55,528 60,528.8 63.75,531.3 68.75,526.3 75,530.5 85,531.3 95,528.8 110,528.8 113.75,530 118.75,525.5 122.5,526.3 127.5,522.5 133.75,521.3 140,525 146.25,531.3 155,529.5 160,533 172.5,532 177.5,537.5 180,531.3 193.75,530 202.5,536.3 210,538.8 217.5,544.5 222.5,540 225,535 227.5,541.3 230,541.3 235,546.3 241.25,550.5 248.75,548.8 253.75,542.5 257.5,540.5 262.5,544.5 266.25,543 270,545.5 276.25,541.3 280.75,535 285,541.3 291.25,544.5 301.25,542.5 306.25,538 312.5,538.8 321.25,542.5 327.5,539.5 337.5,540 347.5,538 355,538.8 360,540 366.25,540 370,542 377.5,534.5 385,535.5 392.5,538.8 397.5,538 402.5,540.5 406.25,540 410,544.5 415,546.3 418.75,550 421.25,545.5 430,548 437.5,550.5 441.25,546.3 450,546.3 450,552 455,552.5 457,555 461.25,547.5 468.75,548.8 475,552 481.25,554.5 485,558 490,555 496.25,555.5 500,552.5 503.75,544.5 508.75,548.8 512.5,550.5 516.25,547.5 520,540 525,533 532.5,534.5 537.5,532 541.25,533.8 546.25,531.3 550,532 555,528 561.25,528.8 565.5,525 570,528 577.5,526.3 582.5,527 587.5,526.3 592.5,533.8 597.5,540 605,533 616.25,533 618.75,529.5 625,531.3 628.75,530.5 631.25,536.3 640,536.3 646.25,538 652.5,534.5 657.5,534.5 662.5,537 664,537 669,535.5 674,538 677.75,538.8 680,538.8"/>
<polygon fill="#dfeafd" points="681.5,532 689,531.3 692.75,533 699,533 704,537 712.75,535 716.5,539.5 721.5,539.5 726.5,543 731.5,543 734,539.5 741.5,541.3 746.5,540 752.5,538 752.5,563 681.5,563"/>
<polyline fill="none" stroke="#b4d0f8" stroke-width="2" stroke-linejoin="round" points="681.5,532 689,531.3 692.75,533 699,533 704,537 712.75,535 716.5,539.5 721.5,539.5 726.5,543 731.5,543 734,539.5 741.5,541.3 746.5,540 752.5,538 752.5,563"/>
<rect x="18.8" y="540.8" width="1.4" height="22.2" fill="#ebe4e9"/>
<rect x="52.42" y="553.9" width="1.4" height="9.1" fill="#ebe4e9"/>
<rect x="86.04" y="553.9" width="1.4" height="9.1" fill="#ebe4e9"/>
<rect x="119.66" y="553.9" width="1.4" height="9.1" fill="#ebe4e9"/>
<rect x="153.28" y="553.9" width="1.4" height="9.1" fill="#ebe4e9"/>
<rect x="186.9" y="540.8" width="1.4" height="22.2" fill="#ebe4e9"/>
<rect x="220.52" y="553.9" width="1.4" height="9.1" fill="#ebe4e9"/>
<rect x="254.14" y="553.9" width="1.4" height="9.1" fill="#ebe4e9"/>
<rect x="287.76" y="553.9" width="1.4" height="9.1" fill="#ebe4e9"/>
<rect x="321.38" y="553.9" width="1.4" height="9.1" fill="#ebe4e9"/>
<rect x="355" y="540.8" width="1.4" height="22.2" fill="#ebe4e9"/>
<rect x="388.62" y="553.9" width="1.4" height="9.1" fill="#ebe4e9"/>
<rect x="422.24" y="553.9" width="1.4" height="9.1" fill="#ebe4e9"/>
<rect x="455.86" y="553.9" width="1.4" height="9.1" fill="#ebe4e9"/>
<rect x="489.48" y="553.9" width="1.4" height="9.1" fill="#ebe4e9"/>
<rect x="523.1" y="540.8" width="1.4" height="22.2" fill="#ebe4e9"/>
<rect x="556.72" y="553.9" width="1.4" height="9.1" fill="#ebe4e9"/>
<rect x="590.34" y="553.9" width="1.4" height="9.1" fill="#ebe4e9"/>
<rect x="623.96" y="553.9" width="1.4" height="9.1" fill="#ebe4e9"/>
<rect x="657.58" y="553.9" width="1.4" height="9.1" fill="#ebe4e9"/>
<rect x="691.1" y="540.8" width="1.6" height="22.2" fill="#c3c9dc"/>
<rect x="724.72" y="553.9" width="1.6" height="9.1" fill="#c3c9dc"/>
<rect x="758.44" y="553.9" width="1.4" height="9.1" fill="#ebe4e9"/>
<rect x="792.06" y="553.9" width="1.4" height="9.1" fill="#ebe4e9"/>
<rect x="825.68" y="553.9" width="1.4" height="9.1" fill="#ebe4e9"/>
<rect x="859.3" y="540.8" width="1.4" height="22.2" fill="#ebe4e9"/>
<rect x="678.1" y="519" width="1" height="44" fill="#dadada"/><rect x="679.1" y="519" width="1.3" height="44" fill="#fff"/><rect x="680.4" y="519" width="1.2" height="44" fill="#a4a4a4"/>
<rect x="785.9" y="519" width="1" height="44" fill="#dadada"/><rect x="786.9" y="519" width="1.3" height="44" fill="#fff"/><rect x="788.2" y="519" width="1.2" height="44" fill="#a4a4a4"/>
</g>
</svg>
</body>
</html>
